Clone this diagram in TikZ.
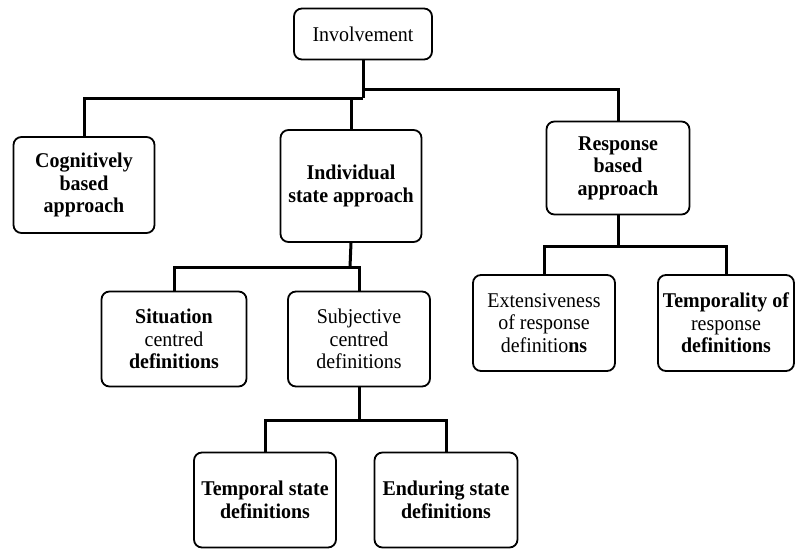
\documentclass[tikz,border=0pt]{standalone}
\usepackage{fontspec}
\setmainfont[FakeStretch=0.95]{Liberation Serif}
\begin{document}
\begin{tikzpicture}[x=1pt,y=-1pt,
  box/.style={draw, line width=1.8pt, rounded corners=8pt, align=center, inner sep=0pt,
    font=\fontsize{21}{22.5}\selectfont},
  link/.style={line width=3pt}]
\useasboundingbox (0,0) rectangle (796,549);
\node[box, minimum width=138pt, minimum height=51pt] (inv) at (363,34) {Involvement};
\node[box, minimum width=141pt, minimum height=96pt] (cog) at (84,185) {\textbf{Cognitively}\\\textbf{based}\\\textbf{approach}};
\node[box, minimum width=141pt, minimum height=112pt] (ind) at (351,186) {\textbf{Individual}\\\textbf{state approach}};
\node[box, minimum width=143pt, minimum height=93pt] (resp) at (618,168) {\textbf{Response}\\\textbf{based}\\\textbf{approach}};
\node[box, minimum width=145pt, minimum height=95pt] (sit) at (174,339) {\textbf{Situation}\\centred\\\textbf{definitions}};
\node[box, minimum width=142pt, minimum height=95pt] (subj) at (359,339) {Subjective\\centred\\definitions};
\node[box, minimum width=142pt, minimum height=96pt] (ext) at (544,323) {Extensiveness\\of response\\definitio\textbf{ns}};
\node[box, minimum width=136pt, minimum height=96pt] (tmp) at (726,323) {\textbf{Temporality of}\\response\\\textbf{definitions}};
\node[box, minimum width=142pt, minimum height=95pt] (ts) at (265,500) {\textbf{Temporal state}\\\textbf{definitions}};
\node[box, minimum width=143pt, minimum height=95pt] (es) at (446,500) {\textbf{Enduring state}\\\textbf{definitions}};
% junctions
\coordinate (j1) at (363,89);
\coordinate (j2) at (363,98);
\coordinate (b2) at (350,267);
\coordinate (b3) at (618,246);
\coordinate (b4) at (359,420);
% top level
\draw[link] (inv.south) -- (j2);
\draw[link] (cog.north) |- (j2);
\draw[link] (ind.north) -- (ind.north |- j2);
\draw[link] (j1) -| (resp.north);
% individual state
\draw[link] (ind.south) -- (b2);
\draw[link] (sit.north) |- (subj.north |- b2) -- (subj.north);
% response
\draw[link] (resp.south) -- (b3);
\draw[link] (ext.north) |- (tmp.north |- b3) -- (tmp.north);
% subjective
\draw[link] (subj.south) -- (b4);
\draw[link] (ts.north) |- (es.north |- b4) -- (es.north);
\end{tikzpicture}
\end{document}
